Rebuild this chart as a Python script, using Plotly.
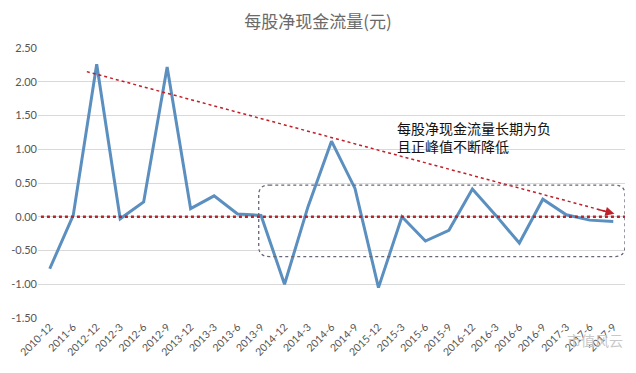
import plotly.graph_objects as go

categories = ["2010-12", "2011-6", "2012-12", "2012-3", "2012-6", "2012-9", "2013-12", "2013-3",
              "2013-6", "2013-9", "2014-12", "2014-3", "2014-6", "2014-9", "2015-12", "2015-3",
              "2015-6", "2015-9", "2016-12", "2016-3", "2016-6", "2016-9", "2017-3", "2017-6", "2017-9"]
values = [-0.77, 0.02, 2.26, -0.03, 0.22, 2.22, 0.12, 0.31,
          0.04, 0.02, -1.00, 0.15, 1.12, 0.42, -1.05, 0.00,
          -0.36, -0.20, 0.41, 0.02, -0.39, 0.26, 0.03, -0.05, -0.07]
y_ticks = [-1.5, -1.0, -0.5, 0.0, 0.5, 1.0, 1.5, 2.0, 2.5]
y_labels = ["-1.50", "-1.00", "-0.50", "0.00", "0.50", "1.00", "1.50", "2.00", "2.50"]
title = "每股净现金流量(元)"
note = "每股净现金流量长期为负<br>且正峰值不断降低"
watermark = "市值风云"

idx = list(range(len(categories)))

fig = go.Figure()
fig.add_trace(go.Scatter(x=idx, y=values, mode="lines",
                         line=dict(color="#5b8fbf", width=3), hoverinfo="skip"))

red = "#c0202a"
# zero line (red dotted)
fig.add_shape(type="line", xref="paper", yref="y", x0=0.005, x1=1.0, y0=0, y1=0,
              line=dict(color=red, width=2.5, dash="dot"), layer="above")
# trend line
x0a, y0a, x1a, y1a = 1.58, 2.15, 24.0, 0.05
fig.add_shape(type="line", xref="x", yref="y", x0=x0a, y0=y0a, x1=x1a, y1=y1a,
              line=dict(color=red, width=1.5, dash="dot"))
fig.add_annotation(x=x1a + 0.05, y=y1a - 0.005, ax=x1a - 0.7, ay=y1a + 0.063, xref="x", yref="y",
                   axref="x", ayref="y", text="", showarrow=True, arrowhead=2,
                   arrowsize=1.2, arrowwidth=1.5, arrowcolor=red)

# rounded dotted box
xl, xr, yt, yb = 8.9, 24.5, 0.47, -0.59
rx, ry = 0.45, 0.15
path = (f"M {xl+rx},{yt} L {xr-rx},{yt} Q {xr},{yt} {xr},{yt-ry} "
        f"L {xr},{yb+ry} Q {xr},{yb} {xr-rx},{yb} L {xl+rx},{yb} "
        f"Q {xl},{yb} {xl},{yb+ry} L {xl},{yt-ry} Q {xl},{yt} {xl+rx},{yt} Z")
fig.add_shape(type="path", path=path, xref="x", yref="y",
              line=dict(color="#666677", width=1.3, dash="dot"))

fig.add_annotation(x=14.72, y=1.49, xref="x", yref="y", text=note, showarrow=False,
                   xanchor="left", yanchor="top", align="left",
                   font=dict(family="Noto Sans CJK SC", size=14, color="#111111"))

fig.add_annotation(x=1.0, y=-0.08, xref="paper", yref="paper", text=watermark, showarrow=False,
                   xanchor="right", yanchor="middle",
                   font=dict(family="Noto Sans CJK SC", size=14, color="#c8c8c8"))

# page body has an 8px margin, so the figure is sized/offset to fill the 636x373 window
fig.update_layout(
    width=620, height=357,
    margin=dict(l=30, r=3, t=40, b=47),
    paper_bgcolor="white", plot_bgcolor="white",
    showlegend=False,
    title=dict(text=title, x=0.5, xanchor="center", y=0.962, yanchor="middle",
               font=dict(family="Noto Sans CJK SC", size=17, color="#6a6a6a")),
    xaxis=dict(range=[-0.5, 24.5], tickmode="array", tickvals=idx, ticktext=categories,
               tickangle=-45, showgrid=False, zeroline=False, showline=False, automargin=False,
               tickfont=dict(family="Lato", size=10.5, color="#555555"), ticks=""),
    yaxis=dict(range=[-1.5, 2.5], tickmode="array", tickvals=y_ticks, ticktext=y_labels,
               showgrid=True, gridcolor="#d9d9d9", gridwidth=1, zeroline=False, showline=False,
               automargin=False,
               tickfont=dict(family="Lato", size=11, color="#555555"), ticks=""),
)

fig.write_html("out.html")
